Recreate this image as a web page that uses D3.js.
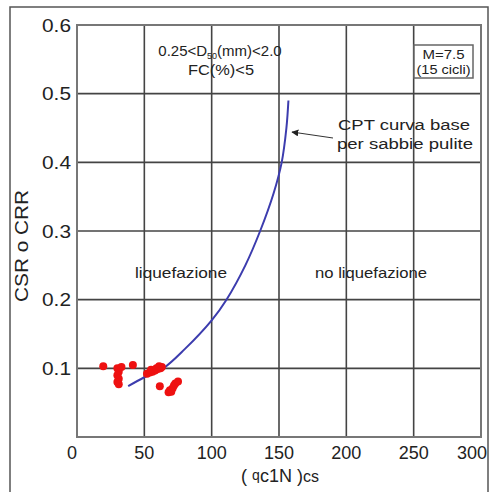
<!DOCTYPE html>
<html><head><meta charset="utf-8">
<script src="https://cdn.jsdelivr.net/npm/d3@7"></script>
<style>body{margin:0;background:#fff}svg{display:block}text{font-family:"Liberation Sans",Arial,sans-serif;fill:#222}</style>
</head><body>
<script>
const xTicks = [0, 50, 100, 150, 200, 250, 300];
const yTicks = [0.1, 0.2, 0.3, 0.4, 0.5, 0.6];
const yTickLabels = ["0.1", "0.2", "0.3", "0.4", "0.5", "0.6"];
// CPT base curve for clean sands
const curveQ = [38, 50, 64, 80, 100, 111, 125, 136, 146, 152, 155.5, 157];
const curveCRR = [0.074, 0.087, 0.10, 0.128, 0.17, 0.20, 0.25, 0.30, 0.355, 0.40, 0.45, 0.49];
// field data points
const ptQ = [19.5, 30, 31, 30, 31, 30, 31, 33, 41.5, 52, 54, 56, 58, 60, 62, 63, 55, 59, 61, 61.5, 68, 69, 71, 72, 73, 75, 70];
const ptCSR = [0.103, 0.10, 0.095, 0.09, 0.085, 0.08, 0.077, 0.102, 0.105, 0.092, 0.094, 0.095, 0.097, 0.099, 0.10, 0.102, 0.098, 0.10, 0.103, 0.074, 0.065, 0.068, 0.071, 0.075, 0.078, 0.081, 0.066];

const W = 491, H = 492;
const svg = d3.select("body").append("svg").attr("width", W).attr("height", H);
const x = d3.scaleLinear().domain([0, 300]).range([77, 481]);
const y = d3.scaleLinear().domain([0, 0.6]).range([437, 25]);

// outer frame
svg.append("rect").attr("x", 10).attr("y", 7).attr("width", 478).attr("height", 495)
  .attr("fill", "none").attr("stroke", "#555").attr("stroke-width", 1.5);

// grid
const g = svg.append("g");
g.selectAll("line.vx").data(xTicks.slice(1, -1)).join("line")
  .attr("x1", d => x(d)).attr("x2", d => x(d)).attr("y1", y(0)).attr("y2", y(0.6))
  .attr("stroke", "#444").attr("stroke-width", 1.6);
g.selectAll("line.hy").data(yTicks.slice(0, -1)).join("line")
  .attr("x1", x(0)).attr("x2", x(300)).attr("y1", d => y(d)).attr("y2", d => y(d))
  .attr("stroke", "#444").attr("stroke-width", 1.6);
g.append("rect").attr("x", x(0)).attr("y", y(0.6)).attr("width", x(300) - x(0)).attr("height", y(0) - y(0.6))
  .attr("fill", "none").attr("stroke", "#777").attr("stroke-width", 2);

// tick labels
svg.selectAll("text.yl").data(yTicks).join("text")
  .attr("x", x(0) - 6).attr("y", d => y(d) + 6.5).attr("text-anchor", "end")
  .attr("font-size", 18).attr("textLength", 29).attr("lengthAdjust", "spacingAndGlyphs")
  .text((d, i) => yTickLabels[i]);
svg.selectAll("text.xl").data(xTicks).join("text")
  .attr("x", (d, i) => i === xTicks.length - 1 ? x(d) + 6 : (i === 0 ? x(d) - 5 : x(d)))
  .attr("y", 459)
  .attr("text-anchor", (d, i) => i === xTicks.length - 1 ? "end" : "middle")
  .attr("font-size", 18)
  .text(d => d);

// axis titles
svg.append("text").attr("transform", "translate(28,246) rotate(-90)")
  .attr("text-anchor", "middle").attr("font-size", 18)
  .attr("textLength", 112).attr("lengthAdjust", "spacingAndGlyphs").text("CSR o CRR");
const xt = svg.append("text").attr("x", 280).attr("y", 482).attr("text-anchor", "middle").attr("font-size", 18);
xt.append("tspan").text("( ");
xt.append("tspan").attr("font-size", 14).attr("dy", -2).text("q");
xt.append("tspan").attr("dy", 2).text("c1N )");
xt.append("tspan").attr("font-size", 16).text("cs");

// curve
const line = d3.line().x(d => x(d[0])).y(d => y(d[1])).curve(d3.curveCatmullRom.alpha(0.5));
svg.append("path").datum(curveQ.map((q, i) => [q, curveCRR[i]]))
  .attr("d", line).attr("fill", "none").attr("stroke", "#3c3cae").attr("stroke-width", 2);

// points
svg.selectAll("circle.p").data(ptQ.map((q, i) => [q, ptCSR[i]])).join("circle")
  .attr("cx", d => x(d[0])).attr("cy", d => y(d[1])).attr("r", 4).attr("fill", "#ee1111");

// annotations
const t1 = svg.append("text").attr("x", 220).attr("y", 56).attr("text-anchor", "middle").attr("font-size", 15);
t1.append("tspan").text("0.25<D");
t1.append("tspan").attr("font-size", 9).attr("dy", 3).text("50");
t1.append("tspan").attr("dy", -3).text("(mm)<2.0");
svg.append("text").attr("x", 221).attr("y", 75).attr("text-anchor", "middle").attr("font-size", 15)
  .attr("textLength", 66).attr("lengthAdjust", "spacingAndGlyphs").text("FC(%)<5");

svg.append("rect").attr("x", 414).attr("y", 45).attr("width", 59).attr("height", 33)
  .attr("fill", "#fff").attr("stroke", "#666").attr("stroke-width", 1.5);
svg.append("text").attr("x", 443.5).attr("y", 59).attr("text-anchor", "middle").attr("font-size", 12)
  .attr("textLength", 42).attr("lengthAdjust", "spacingAndGlyphs").text("M=7.5");
svg.append("text").attr("x", 443.5).attr("y", 74).attr("text-anchor", "middle").attr("font-size", 12)
  .attr("textLength", 54).attr("lengthAdjust", "spacingAndGlyphs").text("(15 cicli)");

svg.append("text").attr("x", 181).attr("y", 278).attr("text-anchor", "middle").attr("font-size", 15)
  .attr("textLength", 92).attr("lengthAdjust", "spacingAndGlyphs").text("liquefazione");
svg.append("text").attr("x", 371).attr("y", 278).attr("text-anchor", "middle").attr("font-size", 15)
  .attr("textLength", 112).attr("lengthAdjust", "spacingAndGlyphs").text("no liquefazione");

svg.append("text").attr("x", 338).attr("y", 130).attr("font-size", 14)
  .attr("textLength", 132).attr("lengthAdjust", "spacingAndGlyphs").text("CPT curva base");
svg.append("text").attr("x", 337).attr("y", 149).attr("font-size", 14)
  .attr("textLength", 136).attr("lengthAdjust", "spacingAndGlyphs").text("per sabbie pulite");

// arrow
svg.append("defs").append("marker").attr("id", "ah").attr("viewBox", "0 0 10 10")
  .attr("refX", 9).attr("refY", 5).attr("markerWidth", 7).attr("markerHeight", 7).attr("orient", "auto")
  .append("path").attr("d", "M0,0L10,5L0,10z").attr("fill", "#222");
svg.append("line").attr("x1", 333).attr("y1", 138).attr("x2", 292).attr("y2", 132)
  .attr("stroke", "#333").attr("stroke-width", 1).attr("marker-end", "url(#ah)");
</script>
</body></html>
